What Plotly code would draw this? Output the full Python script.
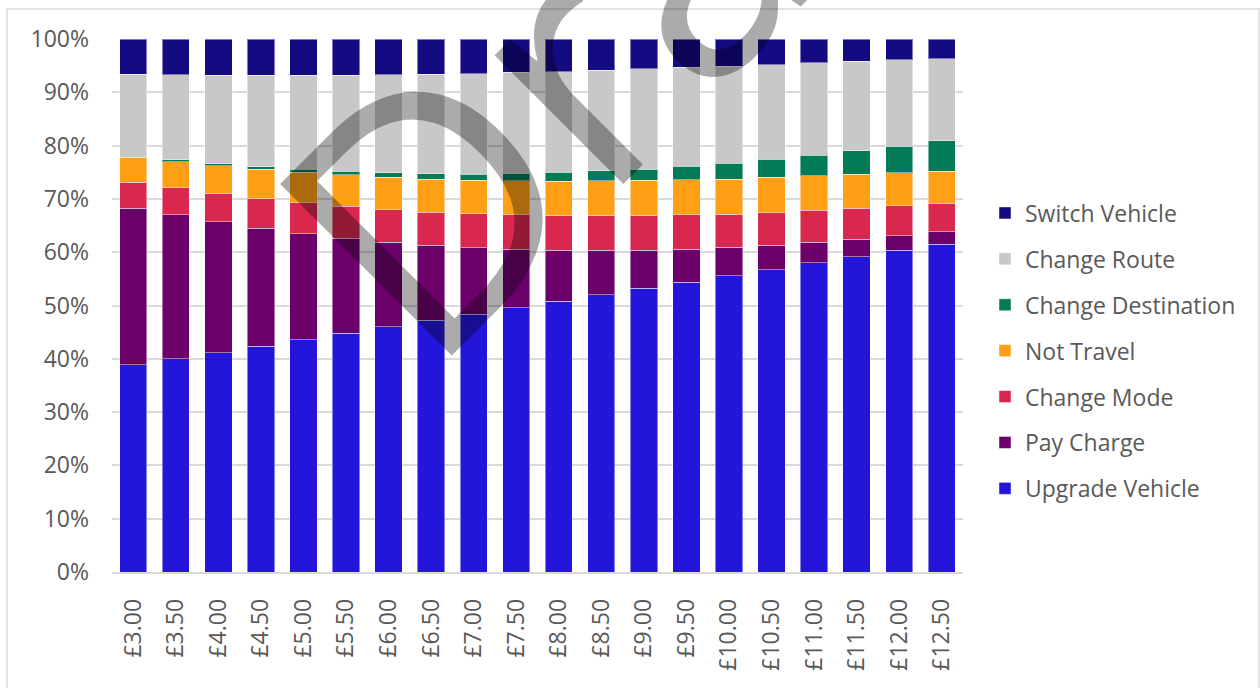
import plotly.graph_objects as go

# Charge levels on the x axis
categories = ["£3.00", "£3.50", "£4.00", "£4.50", "£5.00", "£5.50", "£6.00",
              "£6.50", "£7.00", "£7.50", "£8.00", "£8.50", "£9.00", "£9.50",
              "£10.00", "£10.50", "£11.00", "£11.50", "£12.00", "£12.50"]

# Share of responses (%) per behavioural response
upgrade_vehicle = [38.9, 40.0, 41.2, 42.4, 43.6, 44.8, 46.0, 47.2, 48.4, 49.6,
                   50.8, 52.0, 53.2, 54.4, 55.6, 56.8, 58.0, 59.2, 60.4, 61.5]
pay_charge = [29.4, 27.0, 24.6, 22.2, 19.9, 17.8, 15.9, 14.1, 12.4, 11.0,
              9.6, 8.4, 7.2, 6.2, 5.4, 4.6, 3.9, 3.3, 2.7, 2.3]
change_mode = [4.9, 5.1, 5.3, 5.5, 5.8, 6.0, 6.1, 6.2, 6.4, 6.4,
               6.4, 6.4, 6.4, 6.4, 6.2, 6.1, 6.0, 5.8, 5.6, 5.4]
not_travel = [4.7, 4.9, 5.2, 5.5, 5.7, 5.9, 6.1, 6.2, 6.3, 6.4,
              6.5, 6.6, 6.7, 6.6, 6.6, 6.6, 6.4, 6.4, 6.2, 6.0]
change_destination = [0.2, 0.3, 0.4, 0.5, 0.6, 0.7, 0.8, 1.0, 1.1, 1.4,
                      1.7, 1.9, 2.1, 2.5, 3.0, 3.4, 3.9, 4.4, 5.0, 5.7]
change_route = [15.4, 16.0, 16.6, 17.2, 17.6, 18.0, 18.4, 18.7, 18.9, 19.0,
                18.9, 18.8, 18.8, 18.6, 18.2, 17.8, 17.3, 16.8, 16.2, 15.4]
switch_vehicle = [6.6, 6.7, 6.8, 6.8, 6.8, 6.8, 6.7, 6.6, 6.5, 6.2,
                  6.1, 5.9, 5.6, 5.3, 5.1, 4.8, 4.5, 4.2, 3.9, 3.7]

# Stacked bottom to top
series = [
    ("Upgrade Vehicle", upgrade_vehicle, "#2316DA"),
    ("Pay Charge", pay_charge, "#6C006B"),
    ("Change Mode", change_mode, "#D8284F"),
    ("Not Travel", not_travel, "#FE9F16"),
    ("Change Destination", change_destination, "#027B56"),
    ("Change Route", change_route, "#C8C8C8"),
    ("Switch Vehicle", switch_vehicle, "#140A82"),
]

FONT = "Open Sans"
TEXT = "#595959"
GRID = "#D9D9D9"

W, H = 1260, 688
L, R, T, B = 112, 297, 39, 116
PW, PH = W - L - R, H - T - B


def px_x(x):
    return (x - L) / PW


def px_y(y):
    return (H - B - y) / PH


fig = go.Figure()
for i, (name, vals, color) in enumerate(series):
    fig.add_trace(go.Bar(
        x=categories, y=vals, name=name, legendgroup=name,
        legendrank=len(series) - i,
        marker=dict(color=color, line=dict(color="rgba(255,255,255,0.45)", width=1)),
    ))

fig.update_layout(
    width=W, height=H,
    margin=dict(l=L, r=R, t=T, b=B, autoexpand=False),
    barmode="stack", barnorm="percent", bargap=0.358,
    paper_bgcolor="white", plot_bgcolor="white",
    font=dict(family=FONT, size=23, color=TEXT),
    legend=dict(
        x=px_x(985), xanchor="left", y=px_y(351), yanchor="middle",
        traceorder="grouped", tracegroupgap=13,
        font=dict(family=FONT, size=23, color=TEXT),
        itemwidth=30, bgcolor="rgba(0,0,0,0)",
    ),
    xaxis=dict(
        type="category", tickangle=-90, showgrid=False, ticks="",
        showline=True, linecolor=GRID, linewidth=1.5,
        ticklabelstandoff=16,
        tickfont=dict(family=FONT, size=23, color=TEXT),
    ),
    yaxis=dict(
        range=[0, 100], dtick=10, ticksuffix="%", showgrid=True,
        gridcolor=GRID, gridwidth=1.5, zeroline=False, showline=False,
        ticks="", ticklabelstandoff=22,
        tickfont=dict(family=FONT, size=23, color=TEXT),
    ),
    shapes=[dict(
        type="rect", xref="paper", yref="paper", layer="below",
        x0=px_x(7), x1=px_x(1259), y0=px_y(720), y1=px_y(9),
        line=dict(color=GRID, width=1.5), fillcolor="rgba(0,0,0,0)",
    )],
    annotations=[dict(
        text="Draft", xref="paper", yref="paper",
        x=px_x(622), y=px_y(0), xanchor="center", yanchor="middle",
        textangle=-45, showarrow=False,
        font=dict(family=FONT, size=340, color="rgba(0,0,0,0.33)"),
    )],
)

fig.write_html("out.html")
